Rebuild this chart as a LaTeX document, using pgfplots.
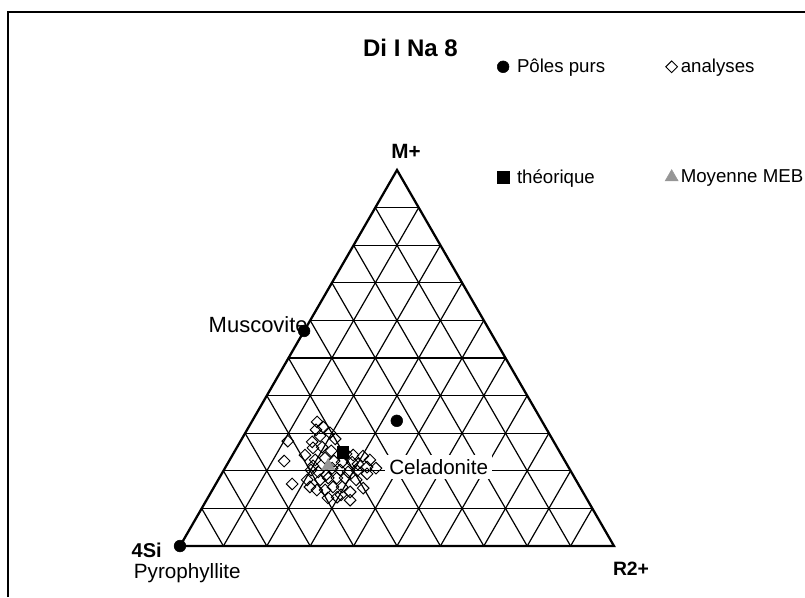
\documentclass[border=0pt]{standalone}
\usepackage{pgfplots}
\pgfplotsset{compat=1.18}
\usepackage{fontspec}
\setmainfont{Liberation Sans}

\definecolor{mebgray}{RGB}{150,150,150}

% ternary values in % (M+ and R2+; 4Si = 100 - M - R) -> picture units
\newcommand{\tx}{180+4.34*(\thisrow{R}+0.5*\thisrow{M})}
\newcommand{\ty}{546-3.76*\thisrow{M}}

\begin{document}
\begin{tikzpicture}
\begin{axis}[
    name=ax,
    scale only axis,
    width=603.75pt, height=447.75pt,
    xmin=0, xmax=805, ymin=0, ymax=597,
    y dir=reverse,
    hide axis, clip=false,
    legend columns=2,
    legend cell align=left,
    legend style={draw=none, fill=none,
        font=\fontsize{14}{17}\selectfont,
        at={(axis cs:493,122)}, anchor=west,
        row sep=67pt},
]
% outer frame (cropped chart area)
\draw[line width=1pt] (axis cs:8,597) -- (axis cs:8,12) -- (axis cs:805,12);

% ternary grid, every 10 %
\pgfplotsinvokeforeach{10,20,...,90}{
    \draw[line width=0.9pt] (axis cs:{180+2.17*#1},{546-3.76*#1}) -- (axis cs:{614-2.17*#1},{546-3.76*#1});
    \draw[line width=0.9pt] (axis cs:{180+4.34*#1},546) -- (axis cs:{397+2.17*#1},{170+3.76*#1});
    \draw[line width=0.9pt] (axis cs:{614-4.34*#1},546) -- (axis cs:{397-2.17*#1},{170+3.76*#1});
}
\draw[line width=1.7pt] (axis cs:180,546) -- (axis cs:614,546) -- (axis cs:397,170) -- cycle;

% pure poles: pyrophyllite, muscovite, celadonite
\addplot[only marks, mark=*, mark size=4.4pt, black] table[x expr=\tx, y expr=\ty] {
M R
0 0
57.2 0
33.3 33.3
};
\addlegendentry{\hspace{4pt}Pôles purs\hspace{43pt}\mbox{}}

\addplot[only marks, mark=square, mark size=3.1pt,
    mark options={rotate=45, fill=white, draw=black, line width=0.7pt}]
    table[x expr=\tx, y expr=\ty] {
M R
33.0 15.1
31.7 17.1
27.9 10.9
27.7 16.6
29.3 17.6
30.1 19.5
28.5 21.5
30.9 15.9
24.2 16.7
22.6 12.7
26.1 17.6
26.3 19.6
25.3 22.2
22.9 19.7
23.4 21.7
20.2 20.1
19.7 22.0
22.6 24.2
22.3 26.2
24.5 26.0
24.2 27.8
23.9 30.2
22.9 32.3
22.3 28.5
21.8 30.1
21.0 32.6
20.7 34.8
20.2 26.8
19.7 28.9
20.0 30.8
19.2 33.5
17.6 20.5
17.6 23.5
18.1 25.1
18.1 27.1
18.1 29.0
16.5 17.6
15.7 22.1
14.9 24.1
14.9 26.0
15.7 27.4
15.7 29.5
14.4 32.0
15.4 34.5
12.8 27.7
13.0 29.7
12.2 33.1
18.9 24.2
21.3 20.0
13.6 30.3
17.6 31.8
20.7 24.7
};
\addlegendentry{analyses}

\addplot[only marks, mark=square*, mark size=4.4pt, black]
    table[x expr=\tx, y expr=\ty] {
M R
25.0 25.0
};
\addlegendentry{\hspace{4pt}théorique}

\addplot[only marks, mark=triangle*, mark size=5.6pt, mebgray]
    table[x expr=\tx, y expr=\ty] {
M R
21.3 23.5
};
\addlegendentry{Moyenne MEB}

% labels
\node[font=\bfseries\fontsize{18}{21}\selectfont] at (axis cs:410.5,47.5) {Di I Na 8};
\node[font=\bfseries\fontsize{15.5}{18}\selectfont] at (axis cs:406,151.5) {M+};
\node[font=\bfseries\fontsize{15}{18}\selectfont, anchor=east, inner sep=0pt] at (axis cs:162,550) {4Si};
\node[font=\fontsize{15.5}{18}\selectfont, anchor=east, inner sep=0pt] at (axis cs:241,573) {Pyrophyllite};
\node[font=\bfseries\fontsize{14.5}{17}\selectfont] at (axis cs:631,569) {R2+};
\node[font=\fontsize{16.5}{19}\selectfont, anchor=east, inner sep=0pt] at (axis cs:308,325) {Muscovite};
\node[font=\fontsize{15.5}{18}\selectfont, anchor=west, fill=white, inner sep=3pt] at (axis cs:385,467) {Celadonite};
\end{axis}
\pgfresetboundingbox
\path[use as bounding box] (ax.south west) rectangle (ax.north east);
\end{tikzpicture}
\end{document}
